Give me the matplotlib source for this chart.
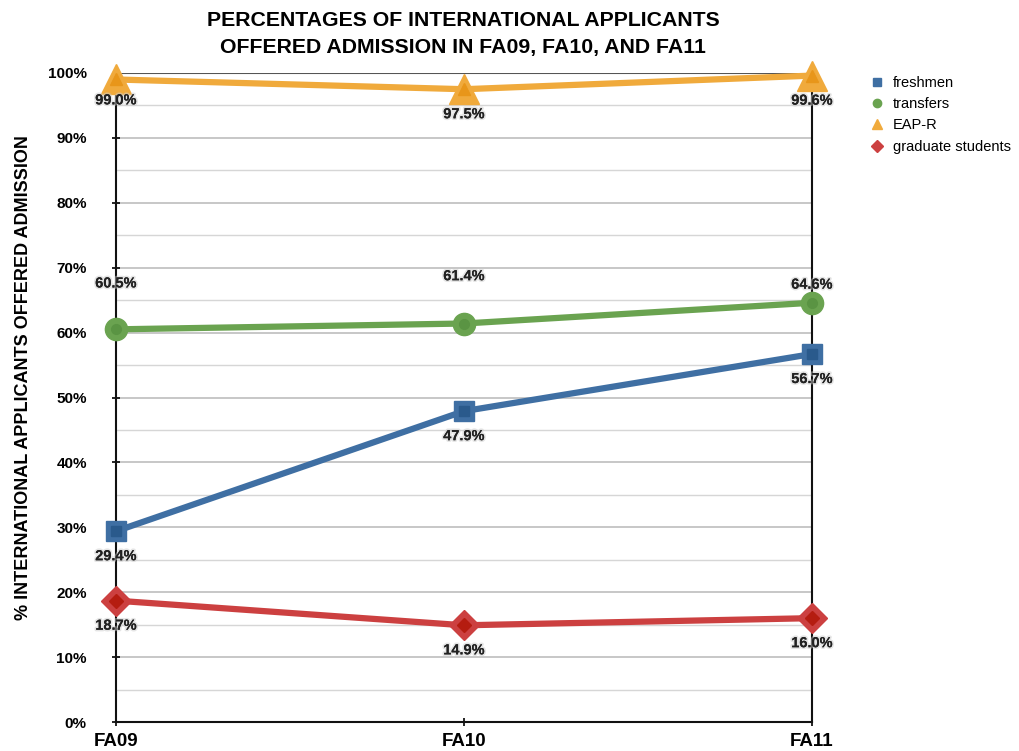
import matplotlib
matplotlib.use("Agg")
import matplotlib.pyplot as plt
import matplotlib.patheffects as pe

categories = ["FA09", "FA10", "FA11"]
freshmen = [29.4, 47.9, 56.7]
transfers = [60.5, 61.4, 64.6]
eap_r = [99.0, 97.5, 99.6]
graduate = [18.7, 14.9, 16.0]
yticks = list(range(0, 101, 10))
ytick_labels = [f"{v}%" for v in yticks]

plt.rcParams['font.family'] = ['Liberation Sans', 'DejaVu Sans']

fig = plt.figure(figsize=(10.19, 7.51), dpi=100)
ax = fig.add_axes([116/1019, 1-722/751, (812-116)/1019, (722-73)/751])

x = list(range(len(categories)))

# grid
for v in range(5, 100, 10):
    ax.axhline(v, color="#d6d6d6", lw=1, zorder=0)
for v in range(10, 100, 10):
    ax.axhline(v, color="#bdbdbd", lw=1.2, zorder=0)
ax.axhline(100, color="#555555", lw=1.5, zorder=0)

# label offsets in points (positive = above)
series = [
    ("freshmen", freshmen, "#3f6fa3", "#2a5a8c", "s", 15, 7, [-13, -13, -13]),
    ("transfers", transfers, "#6aa350", "#5a9443", "o", 16, 7, [28, 29, 8]),
    ("EAP-R", eap_r, "#f0aa3c", "#e8961a", "^", 22, 8, [-10, -13, -13]),
    ("graduate students", graduate, "#cc4040", "#b51c10", "D", 15, 7, [-13, -13, -13]),
]

for name, vals, col, dark, mk, ms, ms2, offs in series:
    ax.plot(x, vals, color=col, lw=4.5, marker=mk, markersize=ms,
            markerfacecolor=col, markeredgecolor=col, zorder=3, clip_on=False)
    ax.plot(x, vals, ls="none", marker=mk, markersize=ms2,
            markerfacecolor=dark, markeredgecolor=dark, zorder=4, clip_on=False)
    for xi, v, off in zip(x, vals, offs):
        ax.annotate(f"{v:.1f}%", (xi, v), xytext=(0, off), textcoords="offset points",
                    ha="center", va="bottom" if off > 0 else "top", fontsize=10.5,
                    fontweight="bold", color="#222222", zorder=5,
                    path_effects=[pe.withStroke(linewidth=2.5, foreground="#cccccc", alpha=0.5), pe.Normal()])

# legend proxies
handles = []
for name, vals, col, dark, mk, ms, ms2, offs in series:
    h, = ax.plot([], [], ls="none", marker=mk, markersize=6 if mk != "^" else 7.5,
                 markerfacecolor=col, markeredgecolor=col, label=name)
    handles.append(h)
leg = fig.legend(handles=handles, loc="upper left", bbox_to_anchor=(862/1019, 1-70/751),
                 frameon=False, fontsize=10.5, handletextpad=0.5, labelspacing=0.5,
                 borderaxespad=0, handlelength=1.2)

ax.set_xlim(0, 2)
ax.set_ylim(0, 100)
ax.set_xticks(x)
ax.set_xticklabels(categories, fontsize=13.5, fontweight="bold")
ax.set_yticks(yticks)
ax.set_yticklabels(ytick_labels, fontsize=11, fontweight="bold")
ax.tick_params(axis="y", length=6, width=1.2, direction="inout", pad=18)
ax.tick_params(axis="x", length=6, width=1.2, direction="inout", pad=5)

for s in ["left", "bottom", "right"]:
    ax.spines[s].set_color("#111111")
    ax.spines[s].set_linewidth(1.5)
ax.spines["top"].set_visible(False)

ax.set_ylabel("% INTERNATIONAL APPLICANTS OFFERED ADMISSION", fontsize=13,
              fontweight="bold")
ax.yaxis.set_label_coords(-0.121, 0.531)

fig.text(463/1019, 1-20/751, "PERCENTAGES OF INTERNATIONAL APPLICANTS",
         ha="center", va="center", fontsize=15.3, fontweight="bold")
fig.text(463/1019, 1-48/751, "OFFERED ADMISSION IN FA09, FA10, AND FA11",
         ha="center", va="center", fontsize=15.3, fontweight="bold")

fig.savefig("out.png", dpi=100)
